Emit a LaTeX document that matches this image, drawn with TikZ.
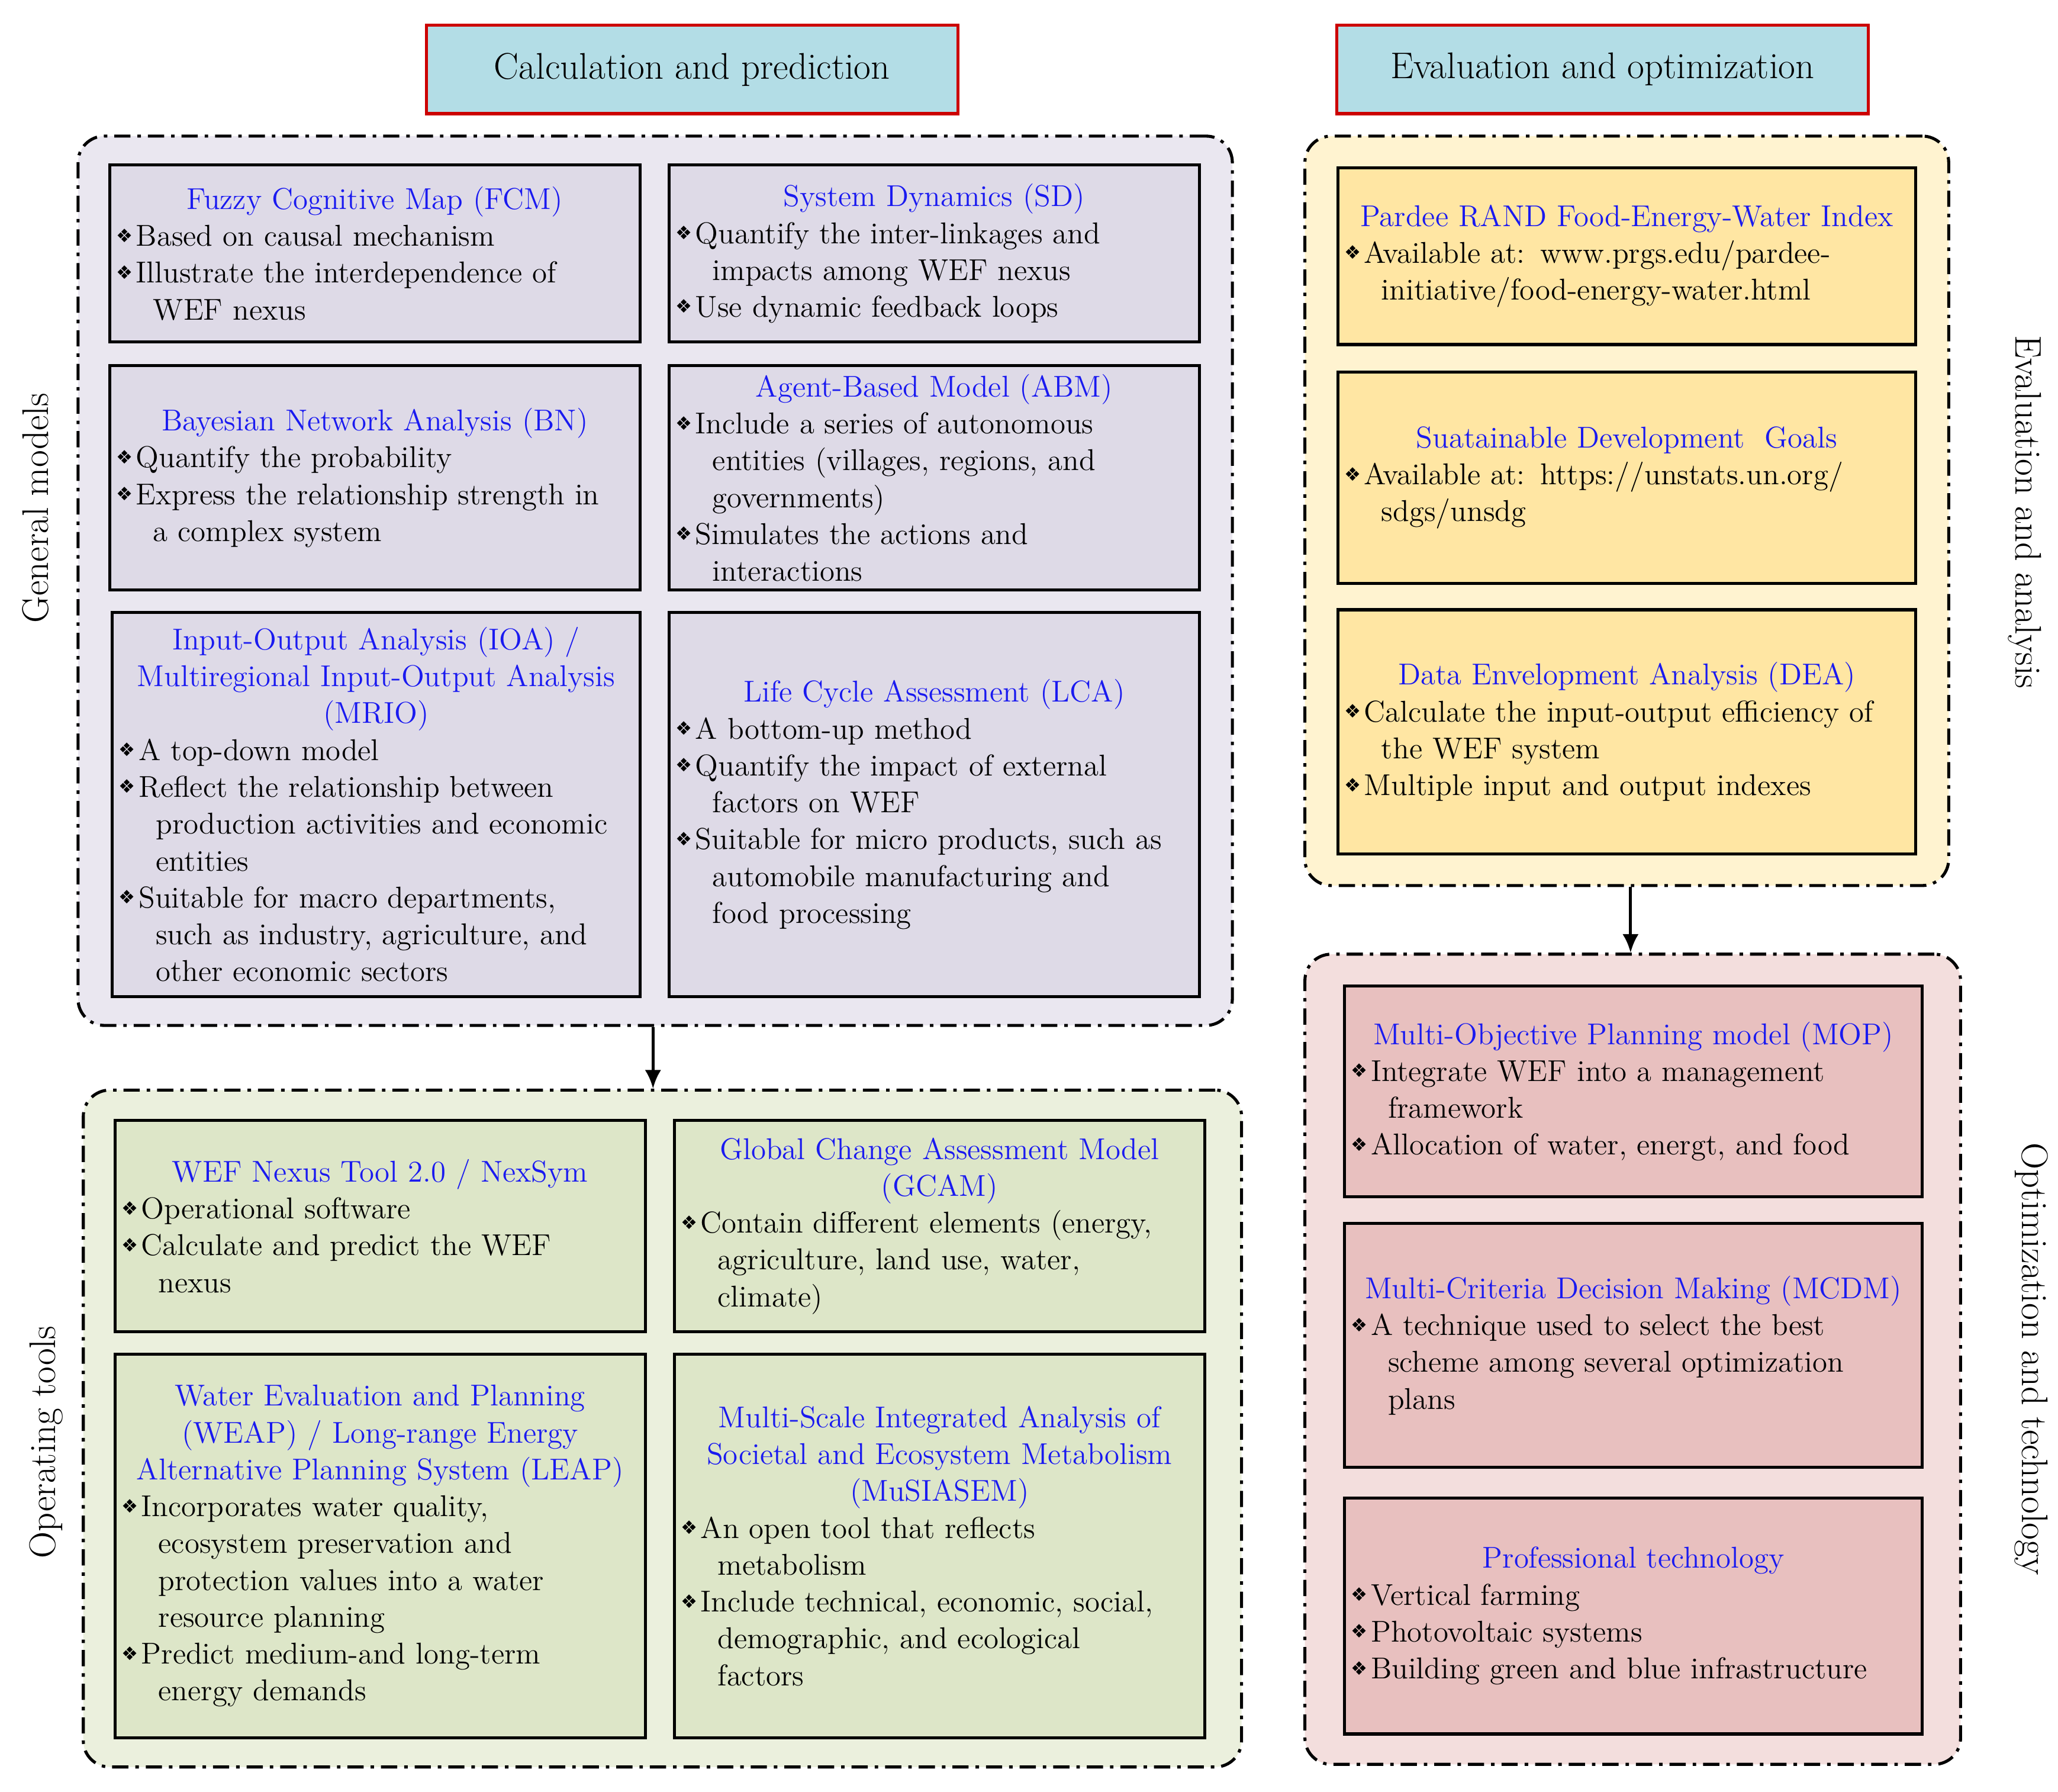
\documentclass[tikz,border=0pt]{standalone}
\usepackage{fontspec}
\newfontfamily\dv{DejaVu Sans}
\definecolor{hdrfill}{HTML}{B3DDE6}
\definecolor{hdrline}{HTML}{CC0000}
\definecolor{gmc}{HTML}{EAE7F0}\definecolor{gmb}{HTML}{DEDAE7}
\definecolor{otc}{HTML}{EBF0DD}\definecolor{otb}{HTML}{DDE6C8}
\definecolor{evc}{HTML}{FFF3D0}\definecolor{evb}{HTML}{FFE6A3}
\definecolor{opc}{HTML}{F3DEDD}\definecolor{opb}{HTML}{E8C0BF}
\definecolor{ttl}{HTML}{1A1AF0}
\newcommand\bl[1]{\noindent\makebox[0.3cm][l]{\raisebox{0.3ex}{\dv\fontsize{8}{8}\selectfont ❖}}\mbox{#1}\par}
\newcommand\cl[1]{\noindent\hspace*{0.56cm}\mbox{#1}\par}
\newcommand\tl[1]{{\centering\color{ttl}\mbox{#1}\par}}
% #1 x1 #2 y1 #3 x2 #4 y2 #5 fill #6 name #7 content
\newcommand\mybox[7]{%
  \node[boxsty,fill=#5,minimum width={0.02cm*(#3-#1)},minimum height={0.02cm*(#4-#2)},anchor=north west] (#6) at (#1,#2) {};
  \node[font=\fontsize{13}{15.9}\selectfont,text width={0.02cm*(#3-#1-10)},inner sep=0pt] (#6t) at (#6.center) {#7};}
\newcommand\mycont[6]{%
  \node[contsty,fill=#5,minimum width={0.02cm*(#3-#1)},minimum height={0.02cm*(#4-#2)},anchor=north west] (#6) at (#1,#2) {};}
\tikzset{
  boxsty/.style={draw=black,line width=1.3pt,inner sep=0pt},
  contsty/.style={draw=black,line width=1.3pt,inner sep=0pt,rounded corners=0.4cm,dash pattern=on 7pt off 3pt on 1.5pt off 3pt},
  hdr/.style={draw=hdrline,fill=hdrfill,line width=1.3pt,inner sep=0pt,font=\fontsize{16}{19}\selectfont},
  side/.style={font=\fontsize{16}{19}\selectfont},
  arr/.style={-{Latex[length=8pt,width=7pt]},line width=1.3pt}
}
\usetikzlibrary{arrows.meta}
\begin{document}
\begin{tikzpicture}[x=0.02cm,y=-0.02cm]
\useasboundingbox (0,0) rectangle (1560,1358);
\node[hdr,minimum width={0.02cm*403},minimum height={0.02cm*67},anchor=north west] (h1) at (322,18) {Calculation and prediction};
\node[hdr,minimum width={0.02cm*403},minimum height={0.02cm*67},anchor=north west] (h2) at (1012,18) {Evaluation and optimization};
\mycont{58}{102}{933}{776}{gmc}{gm}
\mycont{62}{825}{940}{1338}{otc}{ot}
\mycont{988}{102}{1476}{670}{evc}{ev}
\mycont{988}{722}{1485}{1336}{opc}{op}
\draw[arr] (gm.south -| 495,0) -- (ot.north -| 495,0);
\draw[arr] (ev.south -| 1236,0) -- (op.north -| 1236,0);
\node[side,rotate=90] (s1) at (27,385) {General models};
\node[side,rotate=90] (s2) at (35,1093) {Operating tools};
\node[side,rotate=-90] (s3) at (1535,388) {Evaluation and analysis};
\node[side,rotate=-90] (s4) at (1540,1030) {Optimization and technology};
\mybox{82}{124}{484}{258}{gmb}{fcm}{\tl{Fuzzy Cognitive Map (FCM)}\bl{Based on causal mechanism}\bl{Illustrate the interdependence of}\cl{WEF nexus}}
\mybox{506}{124}{908}{258}{gmb}{sd}{\tl{System Dynamics (SD)}\bl{Quantify the inter-linkages and}\cl{impacts among WEF nexus}\bl{Use dynamic feedback loops}}
\mybox{82}{276}{484}{446}{gmb}{bn}{\tl{Bayesian Network Analysis (BN)}\bl{Quantify the probability}\bl{Express the relationship strength in}\cl{a complex system}}
\mybox{506}{276}{908}{446}{gmb}{abm}{\tl{Agent-Based Model (ABM)}\bl{Include a series of autonomous}\cl{entities (villages, regions, and}\cl{governments)}\bl{Simulates the actions and}\cl{interactions}}
\mybox{84}{463}{484}{754}{gmb}{ioa}{\tl{Input-Output Analysis (IOA) /}\tl{Multiregional Input-Output Analysis}\tl{(MRIO)}\bl{A top-down model}\bl{Reflect the relationship between}\cl{production activities and economic}\cl{entities}\bl{Suitable for macro departments,}\cl{such as industry, agriculture, and}\cl{other economic sectors}}
\mybox{506}{463}{908}{754}{gmb}{lca}{\tl{Life Cycle Assessment (LCA)}\bl{A bottom-up method}\bl{Quantify the impact of external}\cl{factors on WEF}\bl{Suitable for micro products, such as}\cl{automobile manufacturing and}\cl{food processing}}
\mybox{86}{848}{488}{1008}{otb}{wef}{\tl{WEF Nexus Tool 2.0 / NexSym}\bl{Operational software}\bl{Calculate and predict the WEF}\cl{nexus}}
\mybox{510}{848}{912}{1008}{otb}{gcam}{\tl{Global Change Assessment Model}\tl{(GCAM)}\bl{Contain different elements (energy,}\cl{agriculture, land use, water,}\cl{climate)}}
\mybox{86}{1025}{488}{1316}{otb}{weap}{\tl{Water Evaluation and Planning}\tl{(WEAP) / Long-range Energy}\tl{Alternative Planning System (LEAP)}\bl{Incorporates water quality,}\cl{ecosystem preservation and}\cl{protection values into a water}\cl{resource planning}\bl{Predict medium-and long-term}\cl{energy demands}}
\mybox{510}{1025}{912}{1316}{otb}{mus}{\tl{Multi-Scale Integrated Analysis of}\tl{Societal and Ecosystem Metabolism}\tl{(MuSIASEM)}\bl{An open tool that reflects}\cl{metabolism}\bl{Include technical, economic, social,}\cl{demographic, and ecological}\cl{factors}}
\mybox{1013}{126}{1451}{260}{evb}{pr}{\tl{Pardee RAND Food-Energy-Water Index}\bl{Available at: www.prgs.edu/pardee-}\cl{initiative/food-energy-water.html}}
\mybox{1013}{281}{1451}{441}{evb}{sdg}{\tl{Suatainable Development\ \ Goals}\bl{Available at: https://unstats.un.org/}\cl{sdgs/unsdg}}
\mybox{1013}{461}{1451}{646}{evb}{dea}{\tl{Data Envelopment Analysis (DEA)}\bl{Calculate the input-output efficiency of}\cl{the WEF system}\bl{Multiple input and output indexes}}
\mybox{1018}{746}{1456}{906}{opb}{mop}{\tl{Multi-Objective Planning model (MOP)}\bl{Integrate WEF into a management}\cl{framework}\bl{Allocation of water, energt, and food}}
\mybox{1018}{926}{1456}{1111}{opb}{mcdm}{\tl{Multi-Criteria Decision Making (MCDM)}\bl{A technique used to select the best}\cl{scheme among several optimization}\cl{plans}}
\mybox{1018}{1134}{1456}{1313}{opb}{pt}{\tl{Professional technology}\bl{Vertical farming}\bl{Photovoltaic systems}\bl{Building green and blue infrastructure}}
\end{tikzpicture}
\end{document}
